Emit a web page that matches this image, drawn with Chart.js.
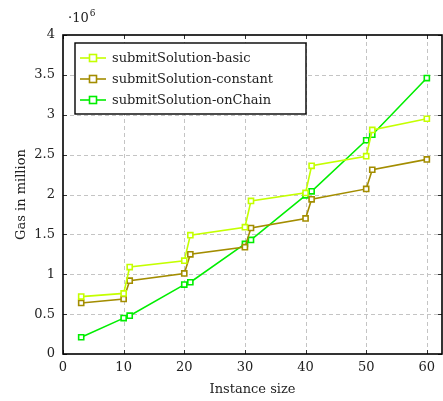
<!DOCTYPE html>
<html>
<head>
<meta charset="utf-8">
<script src="https://cdn.jsdelivr.net/npm/chart.js@4.4.1/dist/chart.umd.min.js"></script>
<style>
  html, body { margin: 0; padding: 0; background: #fff; }
  #wrap { width: 443px; height: 401px; }
</style>
</head>
<body>
<div id="wrap"><canvas id="gasChart" width="443" height="401"></canvas></div>
<script>
// instance sizes (x) and gas use in million (y)
const sizes = [3, 10, 11, 20, 21, 30, 31, 40, 41, 50, 51, 60];
const basicGas    = [0.72, 0.76, 1.09, 1.17, 1.49, 1.59, 1.92, 2.02, 2.36, 2.48, 2.81, 2.95];
const constantGas = [0.64, 0.69, 0.92, 1.01, 1.25, 1.34, 1.58, 1.70, 1.94, 2.07, 2.31, 2.44];
const onChainGas  = [0.21, 0.45, 0.48, 0.87, 0.90, 1.38, 1.43, 1.99, 2.04, 2.68, 2.75, 3.46];
const seriesNames = ['submitSolution-basic', 'submitSolution-constant', 'submitSolution-onChain'];
const seriesColors = ['#c4ff00', '#a38d00', '#00ee00'];
const xTicks = [0, 10, 20, 30, 40, 50, 60];
const yTicks = [0, 0.5, 1, 1.5, 2, 2.5, 3, 3.5, 4];

const serif = "'DejaVu Serif', 'Liberation Serif', serif";

function toPoints(ys) {
  return sizes.map(function (x, i) { return { x: x, y: ys[i] }; });
}

var allSeries = [basicGas, constantGas, onChainGas];
var datasets = allSeries.map(function (ys, i) {
  return {
    label: seriesNames[i],
    data: toPoints(ys),
    borderColor: seriesColors[i],
    backgroundColor: '#ffffff',
    borderWidth: 1.6,
    pointStyle: 'rect',
    pointRadius: 3.6,
    pointBorderWidth: 1.6,
    pointBorderColor: seriesColors[i],
    pointBackgroundColor: '#ffffff',
    showLine: true,
    tension: 0
  };
});

// dashed grid under the lines
const dashedGrid = {
  id: 'dashedGrid',
  beforeDatasetsDraw: function (chart) {
    var ctx = chart.ctx;
    var a = chart.chartArea;
    var xs = chart.scales.x, ys = chart.scales.y;
    ctx.save();
    ctx.strokeStyle = '#c4c4c4';
    ctx.lineWidth = 1;
    ctx.setLineDash([4, 3]);
    xTicks.forEach(function (v) {
      if (v === 0) return;
      var px = Math.round(xs.getPixelForValue(v)) + 0.5;
      ctx.beginPath();
      ctx.moveTo(px, a.bottom); ctx.lineTo(px, a.top);
      ctx.stroke();
    });
    yTicks.forEach(function (v) {
      if (v === 0 || v === 4) return;
      var py = Math.round(ys.getPixelForValue(v)) + 0.5;
      ctx.beginPath();
      ctx.moveTo(a.left, py); ctx.lineTo(a.right, py);
      ctx.stroke();
    });
    ctx.restore();
  }
};

// frame, inner tick marks, legend box and the 10^6 factor
const frameAndLegend = {
  id: 'frameAndLegend',
  afterDraw: function (chart) {
    var ctx = chart.ctx;
    var a = chart.chartArea;
    var xs = chart.scales.x, ys = chart.scales.y;
    ctx.save();

    // ticks inside the frame
    ctx.strokeStyle = '#333';
    ctx.lineWidth = 1;
    xTicks.forEach(function (v) {
      var px = Math.round(xs.getPixelForValue(v)) + 0.5;
      ctx.beginPath();
      ctx.moveTo(px, a.bottom); ctx.lineTo(px, a.bottom - 4);
      ctx.moveTo(px, a.top); ctx.lineTo(px, a.top + 4);
      ctx.stroke();
    });
    yTicks.forEach(function (v) {
      var py = Math.round(ys.getPixelForValue(v)) + 0.5;
      ctx.beginPath();
      ctx.moveTo(a.left, py); ctx.lineTo(a.left + 4, py);
      ctx.moveTo(a.right, py); ctx.lineTo(a.right - 4, py);
      ctx.stroke();
    });

    // frame
    ctx.strokeStyle = '#000';
    ctx.lineWidth = 1.6;
    ctx.strokeRect(a.left, a.top, a.right - a.left, a.bottom - a.top);

    // factor label
    ctx.fillStyle = '#222';
    ctx.textBaseline = 'alphabetic';
    ctx.textAlign = 'left';
    ctx.font = '13px ' + serif;
    ctx.fillText('\u00b710', a.left + 5, a.top - 13);
    var w = ctx.measureText('\u00b710').width;
    ctx.font = '9px ' + serif;
    ctx.fillText('6', a.left + 5 + w + 1, a.top - 19);

    // legend
    var bx = a.left + 12, by = a.top + 8, bw = 231, bh = 71;
    ctx.fillStyle = '#fff';
    ctx.fillRect(bx, by, bw, bh);
    ctx.strokeStyle = '#000';
    ctx.lineWidth = 1.4;
    ctx.strokeRect(bx, by, bw, bh);
    ctx.font = '13px ' + serif;
    ctx.textBaseline = 'middle';
    for (var i = 0; i < seriesNames.length; i++) {
      var ry = by + 15 + i * 21;
      ctx.strokeStyle = seriesColors[i];
      ctx.lineWidth = 1.6;
      ctx.beginPath();
      ctx.moveTo(bx + 5, ry); ctx.lineTo(bx + 31, ry);
      ctx.stroke();
      ctx.fillStyle = '#fff';
      ctx.fillRect(bx + 14.5, ry - 3.5, 7, 7);
      ctx.strokeRect(bx + 14.5, ry - 3.5, 7, 7);
      ctx.fillStyle = '#222';
      ctx.fillText(seriesNames[i], bx + 37, ry + 1);
    }
    ctx.restore();
  }
};

function plainLabel(v) { return String(v); }

new Chart(document.getElementById('gasChart'), {
  type: 'scatter',
  data: { datasets: datasets },
  options: {
    responsive: false,
    animation: false,
    layout: { autoPadding: false, padding: { top: 35, right: 1, left: 0, bottom: 0 } },
    plugins: {
      legend: { display: false },
      tooltip: { enabled: false }
    },
    scales: {
      x: {
        type: 'linear',
        min: 0,
        max: 62.5,
        afterFit: function (s) { s.height = 47; s.paddingLeft = 0; s.paddingRight = 0; },
        afterBuildTicks: function (s) { s.ticks = xTicks.map(function (v) { return { value: v }; }); },
        grid: { display: false, drawTicks: false },
        border: { display: false },
        ticks: { color: '#222', padding: 6, callback: plainLabel, font: { family: serif, size: 13 } },
        title: { display: true, text: 'Instance size', color: '#222', padding: { top: 0, bottom: 4 }, font: { family: serif, size: 13 } }
      },
      y: {
        type: 'linear',
        min: 0,
        max: 4,
        afterFit: function (s) { s.width = 63; },
        afterBuildTicks: function (s) { s.ticks = yTicks.map(function (v) { return { value: v }; }); },
        grid: { display: false, drawTicks: false },
        border: { display: false },
        ticks: { color: '#222', padding: 8, callback: plainLabel, font: { family: serif, size: 13 } },
        title: { display: true, text: 'Gas in million', color: '#222', padding: { top: 14, bottom: 0 }, font: { family: serif, size: 13 } }
      }
    }
  },
  plugins: [dashedGrid, frameAndLegend]
});
</script>
</body>
</html>
